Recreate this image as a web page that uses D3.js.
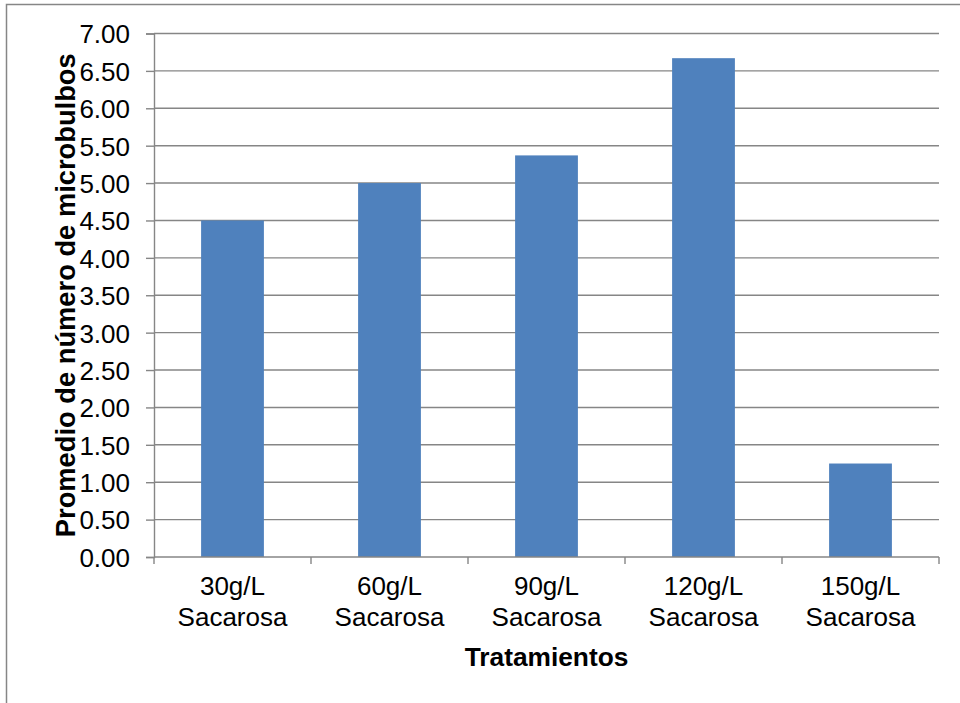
<!DOCTYPE html>
<html>
<head>
<meta charset="utf-8">
<script src="https://cdn.jsdelivr.net/npm/d3@7"></script>
<style>
  html, body { margin: 0; padding: 0; background: #fff; }
  svg { display: block; }
  text { font-family: "Liberation Sans", Arial, sans-serif; fill: #000; }
</style>
</head>
<body>
<svg id="chart" width="960" height="703"></svg>
<script>
// Average number of microbulbs per sucrose treatment
const categories = [
  ["30g/L", "Sacarosa"],
  ["60g/L", "Sacarosa"],
  ["90g/L", "Sacarosa"],
  ["120g/L", "Sacarosa"],
  ["150g/L", "Sacarosa"]
];
const values = [4.50, 5.00, 5.37, 6.67, 1.25];
const yTicks = [0, 0.5, 1, 1.5, 2, 2.5, 3, 3.5, 4, 4.5, 5, 5.5, 6, 6.5, 7];
const xTitle = "Tratamientos";
const yTitle = "Promedio de número de microbulbos";

const svg = d3.select("#chart");
const W = 960, H = 703;
const m = { left: 154, right: 939, top: 33.5, bottom: 557 };
const grey = "#868686";
const fs = 26;

// Chart frame
svg.append("rect")
  .attr("x", 6.5).attr("y", 4.5)
  .attr("width", W).attr("height", H)
  .attr("fill", "none").attr("stroke", grey).attr("stroke-width", 1.5);

const keys = categories.map((c, i) => i);
const x = d3.scaleBand().domain(keys).range([m.left, m.right]).paddingInner(0.6).paddingOuter(0.3);
const xCat = d3.scaleBand().domain(keys).range([m.left, m.right]);
const y = d3.scaleLinear().domain([0, 7]).range([m.bottom, m.top]);

// Horizontal gridlines
svg.append("g")
  .selectAll("line")
  .data(yTicks.filter(t => t > 0))
  .join("line")
  .attr("x1", m.left).attr("x2", m.right)
  .attr("y1", d => y(d)).attr("y2", d => y(d))
  .attr("stroke", grey).attr("stroke-width", 1.4);

// Bars
svg.append("g")
  .selectAll("rect")
  .data(values)
  .join("rect")
  .attr("x", (d, i) => x(i))
  .attr("width", x.bandwidth())
  .attr("y", d => y(d))
  .attr("height", d => y(0) - y(d))
  .attr("fill", "#4F81BD");

// Y axis
const yAxis = svg.append("g")
  .attr("transform", `translate(${m.left},0)`)
  .call(d3.axisLeft(y).tickValues(yTicks).tickSize(8).tickPadding(16).tickFormat(d3.format(".2f")));
yAxis.attr("font-family", null).attr("font-size", null);
yAxis.select(".domain").attr("stroke", grey).attr("stroke-width", 1.4);
yAxis.selectAll(".tick line").attr("stroke", grey).attr("stroke-width", 1.4);
yAxis.selectAll(".tick text")
  .attr("font-size", fs)
  .attr("fill", "#000").attr("dy", "0.36em");

// X axis line and category boundary ticks
svg.append("line")
  .attr("x1", m.left).attr("x2", m.right)
  .attr("y1", y(0)).attr("y2", y(0))
  .attr("stroke", grey).attr("stroke-width", 1.4);
const bounds = keys.map(k => xCat(k)).concat([m.right]);
svg.append("g")
  .selectAll("line")
  .data(bounds)
  .join("line")
  .attr("x1", d => d).attr("x2", d => d)
  .attr("y1", y(0)).attr("y2", y(0) + 7)
  .attr("stroke", grey).attr("stroke-width", 1.4);

// Category labels (two lines)
const lab = svg.append("g")
  .selectAll("text")
  .data(categories)
  .join("text")
  .attr("text-anchor", "middle")
  .attr("font-size", fs)
  .attr("x", (d, i) => xCat(i) + xCat.bandwidth() / 2)
  .attr("y", 595);
lab.selectAll("tspan")
  .data(d => d)
  .join("tspan")
  .attr("x", function() { return d3.select(this.parentNode).attr("x"); })
  .attr("dy", (d, i) => i === 0 ? 0 : 30.5)
  .text(d => d);

// Axis titles
svg.append("text")
  .attr("x", (m.left + m.right) / 2).attr("y", 666)
  .attr("text-anchor", "middle")
  .attr("font-size", 26.3).attr("font-weight", "bold")
  .text(xTitle);

svg.append("text")
  .attr("transform", `translate(75,${(m.top + m.bottom) / 2}) rotate(-90)`)
  .attr("text-anchor", "middle")
  .attr("font-size", 27.3).attr("font-weight", "bold")
  .text(yTitle);
</script>
</body>
</html>
